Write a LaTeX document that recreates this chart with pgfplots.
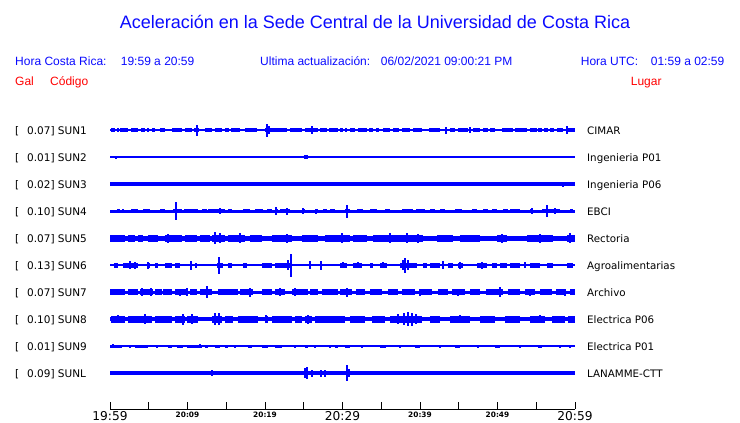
\documentclass[border=0pt]{standalone}
\usepackage{fontspec}
\setmainfont{Liberation Sans}
\newfontfamily\dejavu{DejaVu Sans}
\usepackage{pgfplots}
\pgfplotsset{compat=1.18}
\definecolor{sblue}{RGB}{0,0,255}
\definecolor{tblue}{RGB}{10,10,255}
\definecolor{tred}{RGB}{255,0,0}
\newcommand\bigt{\dejavu\fontsize{12.2}{12.2}\selectfont}
\newcommand\smt{\dejavu\bfseries\fontsize{7.4}{7.4}\selectfont}
\pgfplotsset{
 spk/.style={draw=none, /pgfplots/error bars/y dir=both, /pgfplots/error bars/y explicit,
   /pgfplots/error bars/error mark=none,
   /pgfplots/error bars/error bar style={draw=sblue, line width=#1}},
 blk/.style={draw=none, /pgfplots/error bars/x dir=both, /pgfplots/error bars/x explicit,
   /pgfplots/error bars/error mark=none,
   /pgfplots/error bars/error bar style={draw=sblue, line width=#1}},
}
\begin{document}
\begin{tikzpicture}
\useasboundingbox (0,0) rectangle (740pt,-423pt);
% header
\node[anchor=base, inner sep=0, text=tblue, font=\fontsize{18}{20}\selectfont] at (375pt,-28.5pt) {Aceleración en la Sede Central de la Universidad de Costa Rica};
\begin{scope}[every node/.style={anchor=base west, inner sep=0, font=\fontsize{12}{14}\selectfont}]
\node[text=tblue] at (15pt,-65.5pt) {Hora Costa Rica:};
\node[text=tblue] at (120.7pt,-65.5pt) {19:59 a 20:59};
\node[text=tblue] at (260pt,-65.5pt) {Ultima actualización:};
\node[text=tblue] at (380.7pt,-65.5pt) {06/02/2021 09:00:21 PM};
\node[text=tblue] at (580.7pt,-65.5pt) {Hora UTC:};
\node[text=tblue] at (650.7pt,-65.5pt) {01:59 a 02:59};
\node[text=tred] at (15pt,-85pt) {Gal};
\node[text=tred] at (50pt,-85pt) {Código};
\node[text=tred] at (630.7pt,-85pt) {Lugar};
\end{scope}
% station labels
\begin{scope}[every node/.style={anchor=base west, inner sep=0, font=\dejavu\fontsize{10.5}{12}\selectfont}]
\foreach \y/\g/\c/\l in {130/0.07/SUN1/CIMAR, 157/0.01/SUN2/Ingenieria P01, 184/0.02/SUN3/Ingenieria P06, 211/0.10/SUN4/EBCI, 238/0.07/SUN5/Rectoria, 265/0.13/SUN6/Agroalimentarias, 292/0.07/SUN7/Archivo, 319/0.10/SUN8/Electrica P06, 346/0.01/SUN9/Electrica P01, 373/0.09/SUNL/LANAMME-CTT}{
 \node at (15pt,-\y pt-4pt) {[};
 \node at (27pt,-\y pt-4pt) {\g] \c};
 \node[font=\dejavu\fontsize{10.3}{12}\selectfont] at (587pt,-\y pt-4pt) {\l};
}
\end{scope}
\begin{axis}[
 at={(110pt,-409pt)}, anchor=south west,
 scale only axis, width=465pt, height=294pt,
 xmin=0, xmax=60, ymin=-409, ymax=-115,
 axis x line*=bottom, axis y line=none,
 xtick={0,5,...,60},
 xticklabels={{\bigt 19:59},{},{\smt 20:09},{},{\smt 20:19},{},{\bigt 20:29},{},{\smt 20:39},{},{\smt 20:49},{},{\bigt 20:59}},
 tick align=inside, major tick length=7pt,
 tick style={black, line width=1pt},
 axis line style={black, line width=1pt},
 xticklabel style={inner sep=0pt, yshift=-2.5pt},
 clip=false,
]
% ---------- SUN1
\addplot[sblue, line width=1.3pt] coordinates {(0,-130) (60,-130)};
\addplot[blk=3.4pt] table[row sep=\\, x=t, y expr=-130, x error=w] {t w\\
0.39 0.26\\ 1.81 0.52\\ 3.16 0.45\\ 4.26 0.26\\ 5.61 0.19\\ 6.77 0.32\\ 8.65 0.65\\ 10.13 0.45\\ 11.16 0.32\\ 12.71 0.45\\
14.0 0.45\\ 15.1 0.26\\ 16.19 0.58\\ 18.19 0.77\\ 21.42 1.42\\ 24.0 0.77\\ 26.0 0.84\\ 27.55 0.45\\ 28.84 0.58\\ 29.87 0.19\\
30.45 0.13\\ 31.29 0.32\\ 32.58 0.58\\ 33.68 0.26\\ 34.52 0.19\\ 35.68 0.45\\ 36.9 0.39\\ 38.19 0.52\\ 39.68 0.58\\ 41.87 0.71\\
44.19 0.32\\ 45.55 0.65\\ 47.29 0.45\\ 48.45 0.32\\ 49.35 0.32\\ 51.29 0.71\\ 53.03 0.77\\ 54.65 0.45\\ 55.48 0.26\\ 56.26 0.26\\
56.97 0.19\\ 58.06 0.39\\ 59.55 0.45\\};
\addplot[spk=1.3pt] table[row sep=\\, x=t, y expr=-130, y error=a] {t a\\
1.03 2\\ 4.9 2.3\\ 6.71 2\\ 8.65 2.3\\ 11.23 5.5\\ 13.68 2.3\\ 20.26 6.5\\ 20.52 4\\ 26.06 4\\ 43.35 3.5\\ 46.45 3\\ 57.16 2\\ 58.97 4.2\\};
% ---------- SUN2
\addplot[sblue, line width=1.2pt] coordinates {(0,-157) (60,-157)};
\addplot[spk=1.3pt] table[row sep=\\, x=t, y expr=-157, y error=a] {t a\\
0.77 1.5\\ 25.16 1.8\\ 25.42 1.8\\ 37.68 1.3\\ 41.16 1.3\\ 46.32 1.2\\};
% ---------- SUN3
\addplot[sblue, line width=3.3pt] coordinates {(0,-184) (60,-184)};
\addplot[blk=4pt] table[row sep=\\, x=t, y expr=-184, x error=w] {t w\\ 57.35 0.97\\};
\addplot[spk=1.3pt] table[row sep=\\, x=t, y expr=-184, y error=a] {t a\\ 58.45 2.5\\};
% ---------- SUN4
\addplot[sblue, line width=3pt] coordinates {(0,-211) (60,-211)};
\addplot[blk=4.6pt] table[row sep=\\, x=t, y expr=-211, x error=w] {t w\\
1.10 0.19\\ 1.68 0.13\\ 3.16 0.45\\ 4.71 0.45\\ 6.77 0.32\\ 8.71 0.58\\ 10.45 0.90\\ 12.19 0.32\\ 13.74 1.10\\ 15.48 0.26\\
17.61 0.45\\ 19.23 0.52\\ 20.58 0.32\\ 21.55 0.13\\ 22.58 0.65\\ 24.97 0.19\\ 26.65 0.19\\ 27.74 0.26\\ 28.71 0.32\\ 30.65 0.32\\
32.26 0.39\\ 34.0 0.45\\ 35.81 0.32\\ 38.39 0.71\\ 40.06 0.58\\ 41.61 0.32\\ 42.9 0.32\\ 44.97 0.45\\ 47.03 0.32\\ 48.45 0.32\\
49.61 0.32\\ 51.03 0.32\\ 52.26 0.65\\ 54.39 0.19\\ 56.9 1.16\\ 59.55 0.19\\};
\addplot[spk=1.3pt] table[row sep=\\, x=t, y expr=-211, y error=a] {t a\\
8.52 9\\ 14.19 3\\ 21.42 4\\ 22.84 3.5\\ 24.9 3\\ 26.58 2.5\\ 30.58 6.5\\ 54.45 2.7\\ 56.39 6\\ 57.42 3\\};
% ---------- SUN5
\addplot[sblue, line width=5pt] coordinates {(0,-238) (60,-238)};
\addplot[blk=7pt] table[row sep=\\, x=t, y expr=-238, x error=w] {t w\\
0.97 0.97\\ 2.77 0.45\\ 3.94 0.32\\ 5.55 0.65\\ 8.19 1.10\\ 10.45 0.77\\ 12.26 0.65\\ 14.0 0.84\\ 16.32 1.10\\ 18.84 0.77\\
22.19 1.29\\ 25.81 1.03\\ 29.35 1.61\\ 32.26 0.90\\ 37.16 3.23\\ 43.23 1.03\\ 46.45 1.29\\ 50.58 0.65\\ 55.48 1.68\\ 59.48 0.52\\};
\addplot[spk=1.3pt] table[row sep=\\, x=t, y expr=-238, y error=a] {t a\\
7.48 4.5\\ 13.55 6\\ 14.19 5\\ 16.77 5\\ 22.84 4.5\\ 29.94 5\\ 36.13 5\\ 38.32 5\\ 39.74 4.5\\ 50.58 4.5\\ 55.48 4.5\\ 59.35 5\\};
% ---------- SUN6
\addplot[sblue, line width=2.3pt] coordinates {(0,-265) (60,-265)};
\addplot[blk=5pt] table[row sep=\\, x=t, y expr=-265, x error=w] {t w\\
0.77 0.26\\ 2.65 0.97\\ 4.97 0.19\\ 6.0 0.19\\ 7.55 0.45\\ 8.71 0.32\\ 10.45 0.13\\ 11.1 0.13\\ 14.19 0.39\\ 15.48 0.26\\
17.42 0.26\\ 20.26 0.65\\ 22.39 1.10\\ 30.13 0.45\\ 31.94 0.58\\ 33.74 0.19\\ 35.29 0.45\\ 38.52 1.10\\ 40.65 0.26\\ 41.94 0.65\\
43.94 0.32\\ 45.23 0.32\\ 48.0 0.65\\ 49.61 0.32\\ 50.77 0.45\\ 52.26 0.65\\ 54.84 0.65\\ 56.77 0.39\\ 59.35 0.39\\};
\addplot[spk=1.3pt] table[row sep=\\, x=t, y expr=-265, y error=a] {t a\\
2.58 4\\ 3.23 3.5\\ 4.9 3.5\\ 10.45 4.5\\ 14.06 8.5\\ 22.97 5\\ 23.35 11.5\\ 25.81 4\\ 27.23 4.5\\ 30.06 3\\
32.0 3\\ 35.23 3\\ 37.81 5\\ 38.06 7.5\\ 38.45 5\\ 42.97 4\\ 45.16 3.5\\ 48.0 3.5\\ 53.55 3\\};
% ---------- SUN7
\addplot[sblue, line width=3pt] coordinates {(0,-292) (60,-292)};
\addplot[blk=5.4pt] table[row sep=\\, x=t, y expr=-292, x error=w] {t w\\
0.97 0.97\\ 2.97 0.65\\ 4.71 0.84\\ 6.26 0.45\\ 7.42 0.58\\ 9.16 0.77\\ 10.77 0.45\\ 12.39 0.77\\ 15.23 1.29\\ 17.61 0.84\\
20.26 0.65\\ 21.94 0.65\\ 24.52 1.03\\ 26.32 0.52\\ 28.39 1.03\\ 30.45 0.77\\ 32.32 0.58\\ 34.32 0.77\\ 36.52 0.65\\ 38.52 0.84\\
40.77 0.77\\ 42.97 0.65\\ 44.97 0.84\\ 47.1 0.65\\ 49.61 1.10\\ 52.13 0.77\\ 54.19 0.65\\ 56.26 0.77\\ 58.19 0.65\\ 59.68 0.32\\};
\addplot[spk=1.3pt] table[row sep=\\, x=t, y expr=-292, y error=a] {t a\\
0.65 3\\ 4.13 4\\ 5.29 4\\ 6.97 3\\ 9.03 3.5\\ 9.94 4\\ 12.52 6\\ 18.06 4.5\\ 21.94 4\\ 23.87 4\\
30.58 4.5\\ 40.0 3.5\\ 44.9 3.5\\ 50.32 5\\ 54.19 3.5\\ 58.71 3.5\\};
% ---------- SUN8
\addplot[sblue, line width=3.3pt] coordinates {(0,-319) (60,-319)};
\addplot[blk=7pt] table[row sep=\\, x=t, y expr=-319, x error=w] {t w\\
1.03 0.90\\ 3.87 1.55\\ 6.9 1.10\\ 9.03 0.65\\ 10.65 0.71\\ 13.81 0.65\\ 15.35 0.52\\ 17.81 1.29\\ 20.19 0.19\\ 22.19 1.29\\
24.32 0.45\\ 25.61 0.45\\ 28.39 1.94\\ 31.94 0.97\\ 34.65 0.84\\ 38.19 2.06\\ 41.94 0.65\\ 45.16 1.29\\ 48.71 0.97\\ 51.94 0.97\\
55.16 0.97\\ 57.87 0.84\\ 59.55 0.45\\};
\addplot[spk=1.3pt] table[row sep=\\, x=t, y expr=-319, y error=a] {t a\\
1.03 4\\ 4.52 5\\ 9.42 5.5\\ 10.58 5\\ 13.55 6\\ 14.06 6\\ 20.13 4\\ 25.55 4.5\\ 37.16 5\\ 37.94 6\\
38.45 7\\ 38.97 6.5\\ 39.48 5\\ 45.16 4\\ 55.48 4\\};
% ---------- SUN9
\addplot[sblue, line width=1.3pt] coordinates {(0,-346) (60,-346)};
\addplot[blk=3pt] table[row sep=\\, x=t, y expr=-346, x error=w] {t w\\
0.77 0.77\\ 2.58 0.09\\ 4.06 0.84\\ 6.06 0.09\\ 7.74 0.26\\ 9.03 0.39\\ 10.9 0.97\\ 12.45 0.19\\ 13.87 0.32\\ 15.03 0.19\\
16.13 0.09\\ 18.06 0.26\\ 20.0 0.39\\ 21.74 0.45\\ 23.87 0.09\\ 25.35 0.19\\ 26.45 0.09\\ 28.39 0.09\\ 29.23 0.19\\ 30.65 0.32\\
32.52 0.09\\ 35.23 0.39\\ 37.42 0.09\\ 39.68 0.32\\ 42.58 0.09\\ 44.84 0.32\\ 47.48 0.09\\ 50.0 0.32\\ 52.9 0.09\\ 55.48 0.26\\
58.06 0.09\\ 59.35 0.09\\};
\addplot[spk=1.3pt] table[row sep=\\, x=t, y expr=-346, y error=a] {t a\\ 0.39 2\\ 11.61 2\\};
% ---------- SUNL
\addplot[sblue, line width=3.3pt] coordinates {(0,-373) (60,-373)};
\addplot[spk=1.3pt] table[row sep=\\, x=t, y expr=-373, y error=a] {t a\\
0.65 2\\ 13.16 3\\ 25.16 5\\ 25.42 6\\ 26.06 3.5\\ 27.23 3.5\\ 27.74 3.5\\ 30.58 8\\ 30.84 4\\};
\end{axis}
\end{tikzpicture}
\end{document}
